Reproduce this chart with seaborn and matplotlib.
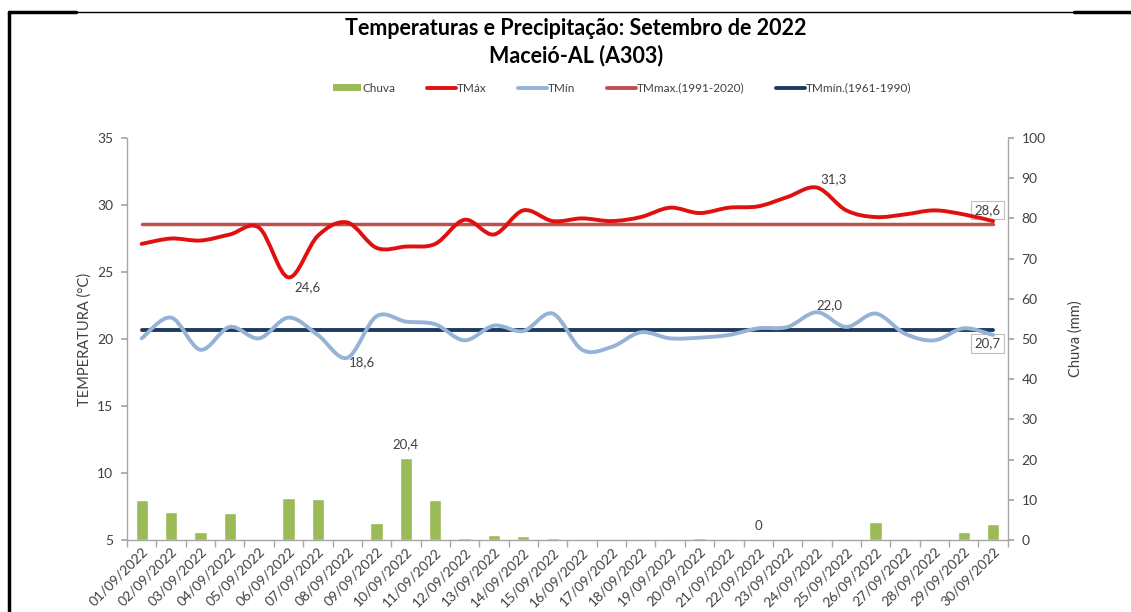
import numpy as np
import matplotlib
matplotlib.use("Agg")
import matplotlib.pyplot as plt
from matplotlib.path import Path
from matplotlib.patches import PathPatch, Patch
from matplotlib.lines import Line2D
import seaborn as sns

# ============================================
# Data
# ============================================
dias = [f"{d:02d}/09/2022" for d in range(1, 31)]

chuva = [10.0, 7.0, 2.0, 6.7, 0.0, 10.4, 10.2, 0.0, 4.2, 20.4,
         10.0, 0.6, 1.2, 1.0, 0.4, 0.0, 0.0, 0.0, 0.2, 0.6,
         0.0, 0.0, 0.2, 0.0, 0.0, 4.5, 0.0, 0.0, 2.0, 4.0]

tmax = [27.1, 27.5, 27.35, 27.8, 28.3, 24.6, 27.7, 28.7, 26.8, 26.9,
        27.1, 28.9, 27.8, 29.6, 28.8, 29.0, 28.8, 29.1, 29.8, 29.4,
        29.8, 29.9, 30.6, 31.3, 29.6, 29.1, 29.3, 29.6, 29.3, 28.8]

tmin = [20.05, 21.6, 19.2, 20.9, 20.05, 21.6, 20.3, 18.6, 21.7, 21.3,
        21.1, 19.9, 21.0, 20.6, 21.9, 19.2, 19.4, 20.5, 20.05, 20.1,
        20.3, 20.8, 20.9, 22.0, 20.9, 21.9, 20.4, 19.9, 20.8, 20.3]

tmax_normal = 28.6   # TMmax.(1991-2020)
tmin_normal = 20.7   # TMmín.(1961-1990)

C_CHUVA = "#9BBB59"
C_TMAX = "#E01010"
C_TMIN = "#95B3D7"
C_NMAX = "#C0504D"
C_NMIN = "#1F3A5F"
C_GRID = "#A6A6A6"
C_TEXT = "#404040"


def smooth_path(y):
    # Excel-style smoothed line: cubic Bezier through every point
    x = np.arange(len(y), dtype=float)
    y = np.asarray(y, dtype=float)
    pts = np.column_stack([x, y])
    verts = [pts[0]]
    codes = [Path.MOVETO]
    n = len(pts)
    for i in range(n - 1):
        p0 = pts[i - 1] if i > 0 else pts[i]
        p1 = pts[i]
        p2 = pts[i + 1]
        p3 = pts[i + 2] if i + 2 < n else pts[i + 1]
        c1 = p1 + (p2 - p0) / 6.0
        c2 = p2 - (p3 - p1) / 6.0
        verts += [c1, c2, p2]
        codes += [Path.CURVE4] * 3
    return Path(verts, codes)


sns.set_theme(style="white")
plt.rcParams["font.family"] = ["Lato", "DejaVu Sans"]

fig = plt.figure(figsize=(11.31, 6.12), dpi=100)
ax = fig.add_axes([0.1123, 0.1176, 0.7787, 0.6569])
ax2 = ax.twinx()

# ---- rain bars (right axis)
sns.barplot(x=dias, y=chuva, ax=ax2, color=C_CHUVA, saturation=1, width=0.42)
ax2.set_ylim(0, 100)
ax2.set_yticks(range(0, 101, 10))
ax2.set_ylabel("Chuva (mm)", fontsize=10.5, color=C_TEXT, labelpad=16)

# ---- temperature lines (left axis)
ax.add_patch(PathPatch(smooth_path(tmax), fill=False, edgecolor=C_TMAX,
                       lw=2.8, capstyle="round", zorder=4))
ax.add_patch(PathPatch(smooth_path(tmin), fill=False, edgecolor=C_TMIN,
                       lw=2.8, capstyle="round", zorder=4))
sns.lineplot(x=range(len(dias)), y=[tmax_normal] * len(dias), ax=ax,
             color=C_NMAX, lw=2.5, zorder=3)
sns.lineplot(x=range(len(dias)), y=[tmin_normal] * len(dias), ax=ax,
             color=C_NMIN, lw=2.8, zorder=3)

ax.set_zorder(ax2.get_zorder() + 1)
ax.patch.set_visible(False)

ax.set_xlim(-0.5, len(dias) - 0.5)
ax.set_ylim(5, 35)
ax.set_yticks(range(5, 36, 5))
ax.set_xticks(range(len(dias)))
ax.set_xticklabels(dias, rotation=45, ha="right", rotation_mode="anchor",
                   fontsize=10, color=C_TEXT)
ax.set_xticks(np.arange(-0.5, len(dias), 1), minor=True)
ax.set_ylabel("TEMPERATURA (°C)", fontsize=10.5, color=C_TEXT, labelpad=4)
ax.set_xlabel("")
ax2.set_xlabel("")

for a in (ax, ax2):
    for s in a.spines.values():
        s.set_visible(False)
ax.spines["left"].set_visible(True)
ax.spines["bottom"].set_visible(True)
ax2.spines["right"].set_visible(True)
for s in (ax.spines["left"], ax.spines["bottom"], ax2.spines["right"]):
    s.set_color(C_GRID)
    s.set_linewidth(1.0)

ax.tick_params(axis="y", which="major", length=4, color=C_GRID, labelsize=10,
               labelcolor=C_TEXT, direction="out", left=True, pad=6)
ax.tick_params(axis="x", which="major", length=0, pad=4)
ax.tick_params(axis="x", which="minor", length=5, color=C_GRID, bottom=True,
               direction="out")
ax2.tick_params(axis="y", length=4, color=C_GRID, labelsize=10,
                labelcolor=C_TEXT, direction="out", right=True, pad=6)
ax2.tick_params(axis="x", length=0, labelbottom=False)

# ---- data labels
lab = dict(fontsize=9.5, color=C_TEXT, textcoords="offset points",
           ha="center", va="center")
i6 = tmax.index(min(tmax))
ax.annotate("24,6", (i6, tmax[i6]), xytext=(14, -7), **lab)
i8 = tmin.index(min(tmin))
ax.annotate("18,6", (i8, tmin[i8]), xytext=(11, -3), **lab)
i24 = tmax.index(max(tmax))
ax.annotate("31,3", (i24, tmax[i24]), xytext=(12, 6), **lab)
j24 = tmin.index(max(tmin))
ax.annotate("22,0", (j24, tmin[j24]), xytext=(9, 5), **lab)
k = chuva.index(max(chuva))
ax2.annotate("20,4", (k, chuva[k]), xytext=(0, 10), **lab)
ax2.annotate("0", (21, chuva[21]), xytext=(0, 10), **lab)

box = dict(boxstyle="square,pad=0.25", fc="white", ec="#BFBFBF", lw=0.8)
ax.annotate("28,6", (len(dias) - 1, tmax_normal), xytext=(-4, 10),
            bbox=box, **lab)
ax.annotate("20,7", (len(dias) - 1, tmin_normal), xytext=(-4, -10),
            bbox=box, **lab)

# ---- titles
fig.text(0.509, 0.954, "Temperaturas e Precipitação: Setembro de 2022",
         ha="center", va="center", fontsize=15.5, fontweight="bold", color="black")
fig.text(0.509, 0.91, "Maceió-AL (A303)", ha="center", va="center",
         fontsize=15.5, fontweight="bold", color="black")

# ---- legend
handles = [
    Patch(facecolor=C_CHUVA, edgecolor="none"),
    Line2D([], [], color=C_TMAX, lw=2.8),
    Line2D([], [], color=C_TMIN, lw=2.8),
    Line2D([], [], color=C_NMAX, lw=2.8),
    Line2D([], [], color=C_NMIN, lw=2.8),
]
labels = ["Chuva", "TMáx", "TMín", "TMmax.(1991-2020)", "TMmín.(1961-1990)"]
leg = fig.legend(handles, labels, loc="center", bbox_to_anchor=(0.55, 0.856),
                 ncol=5, frameon=False, fontsize=8.5, handlelength=2.4,
                 handleheight=0.6, handletextpad=0.1, columnspacing=2.7)
for t in leg.get_texts():
    t.set_color(C_TEXT)

# ---- outer frame lines of the original document
fx = 9 / 1131
fy = 1 - 12 / 612
fig.add_artist(Line2D([fx, fx], [0, fy], transform=fig.transFigure,
                      color="black", lw=2.5))
fig.add_artist(Line2D([fx, 1], [fy, fy], transform=fig.transFigure,
                      color="black", lw=1))
fig.add_artist(Line2D([fx, 76 / 1131], [fy, fy], transform=fig.transFigure,
                      color="black", lw=2.5))
fig.add_artist(Line2D([1074 / 1131, 1], [fy, fy], transform=fig.transFigure,
                      color="black", lw=2.5))

fig.savefig("out.png", dpi=100)
